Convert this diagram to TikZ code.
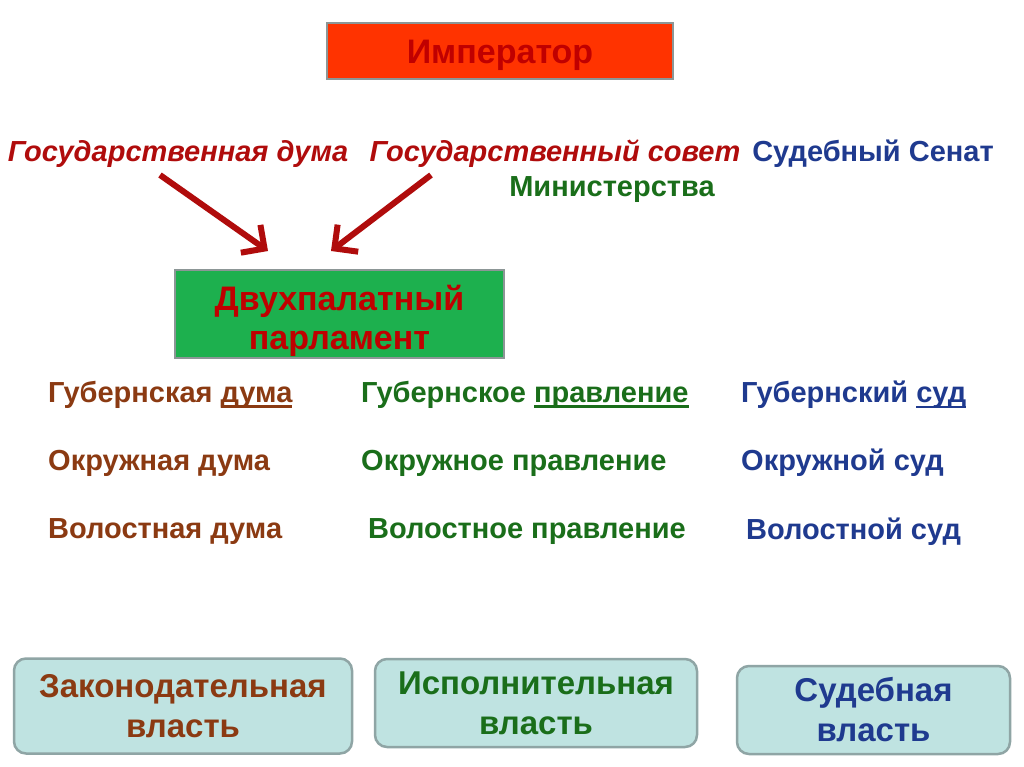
\documentclass[tikz,border=0pt]{standalone}
\usepackage{fontspec}
\setmainfont{Liberation Sans}
\usetikzlibrary{arrows.meta}
\definecolor{impred}{HTML}{FF3300}
\definecolor{darkred}{HTML}{C00000}
\definecolor{arrred}{HTML}{B00C0C}
\definecolor{parlgreen}{HTML}{1DB04E}
\definecolor{brownc}{HTML}{8B3A12}
\definecolor{greenc}{HTML}{1A6E1A}
\definecolor{bluec}{HTML}{1F3A8F}
\definecolor{boxfill}{HTML}{BFE3E1}
\definecolor{boxline}{HTML}{8FA5A5}
\definecolor{grayline}{HTML}{8C9696}
\newcommand{\ulword}[1]{\setbox0\hbox{#1}\rlap{\rule[-5pt]{\wd0}{2.2pt}}\box0}
\tikzset{
  topbox/.style={draw=grayline, line width=2.5pt, inner sep=0pt},
  toptxt/.style={align=center, inner sep=0pt,
    font=\fontsize{34}{39}\selectfont\bfseries, text=darkred},
  head/.style={font=\fontsize{29}{32}\selectfont\bfseries, inner sep=0pt},
  headit/.style={head, font=\fontsize{29}{32}\selectfont\bfseries\itshape, text=arrred},
  rowtxt/.style={font=\fontsize{29}{32}\selectfont\bfseries, inner sep=0pt, anchor=west},
  powerbox/.style={draw=boxline, fill=boxfill, line width=2.5pt, rounded corners=12pt,
    inner sep=0pt, align=center, font=\fontsize{33}{40}\selectfont\bfseries},
  arr/.style={draw=arrred, line width=6pt, -{Straight Barb[length=17pt,width=34pt]}}
}
\begin{document}
\begin{tikzpicture}[x=1pt,y=-1pt]
\useasboundingbox[fill=white] (0,0) rectangle (1024,767);
% Emperor
\node[topbox, fill=impred, minimum width=346pt, minimum height=56pt] (imp) at (500,51) {};
\node[toptxt] (imptxt) at (500,55) {Император};
% top labels
\node[headit] (gduma) at (178,154) {Государственная дума};
\node[headit] (gsovet) at (555,154) {Государственный совет};
\node[head, text=bluec] (senat) at (873,154) {Судебный Сенат};
\node[head, text=greenc] (minist) at (612,190) {Министерства};
% parliament
\node[topbox, fill=parlgreen, minimum width=329pt, minimum height=88pt] (parl) at (339.5,314) {};
\node[toptxt] (parltxt) at (339.5,321) {Двухпалатный\\парламент};
% arrows
\coordinate (a1s) at (160,175);
\coordinate (a1e) at (268,251);
\coordinate (a2s) at (431,175);
\coordinate (a2e) at (331,251);
\draw[arr] (a1s) -- (a1e);
\draw[arr] (a2s) -- (a2e);
% rows
\node[rowtxt, text=brownc] (r1c1) at (48,395) {Губернская \ulword{дума}};
\node[rowtxt, text=greenc] (r1c2) at (361,395) {Губернское \ulword{правление}};
\node[rowtxt, text=bluec] (r1c3) at (741,395) {Губернский \ulword{суд}};
\node[rowtxt, text=brownc] (r2c1) at (48,463) {Окружная дума};
\node[rowtxt, text=greenc] (r2c2) at (361,463) {Окружное правление};
\node[rowtxt, text=bluec] (r2c3) at (741,463) {Окружной суд};
\node[rowtxt, text=brownc] (r3c1) at (48,532) {Волостная дума};
\node[rowtxt, text=greenc] (r3c2) at (368,532) {Волостное правление};
\node[rowtxt, text=bluec] (r3c3) at (746,532) {Волостной суд};
% power boxes
\node[powerbox, text=brownc, minimum width=338pt, minimum height=95pt] (leg) at (183,706) {Законодательная\\власть};
\node[powerbox, text=greenc, minimum width=322pt, minimum height=88pt] (exe) at (536,703) {Исполнительная\\власть};
\node[powerbox, text=bluec, minimum width=273pt, minimum height=88pt] (jud) at (873.5,710) {Судебная\\власть};
\end{tikzpicture}
\end{document}
